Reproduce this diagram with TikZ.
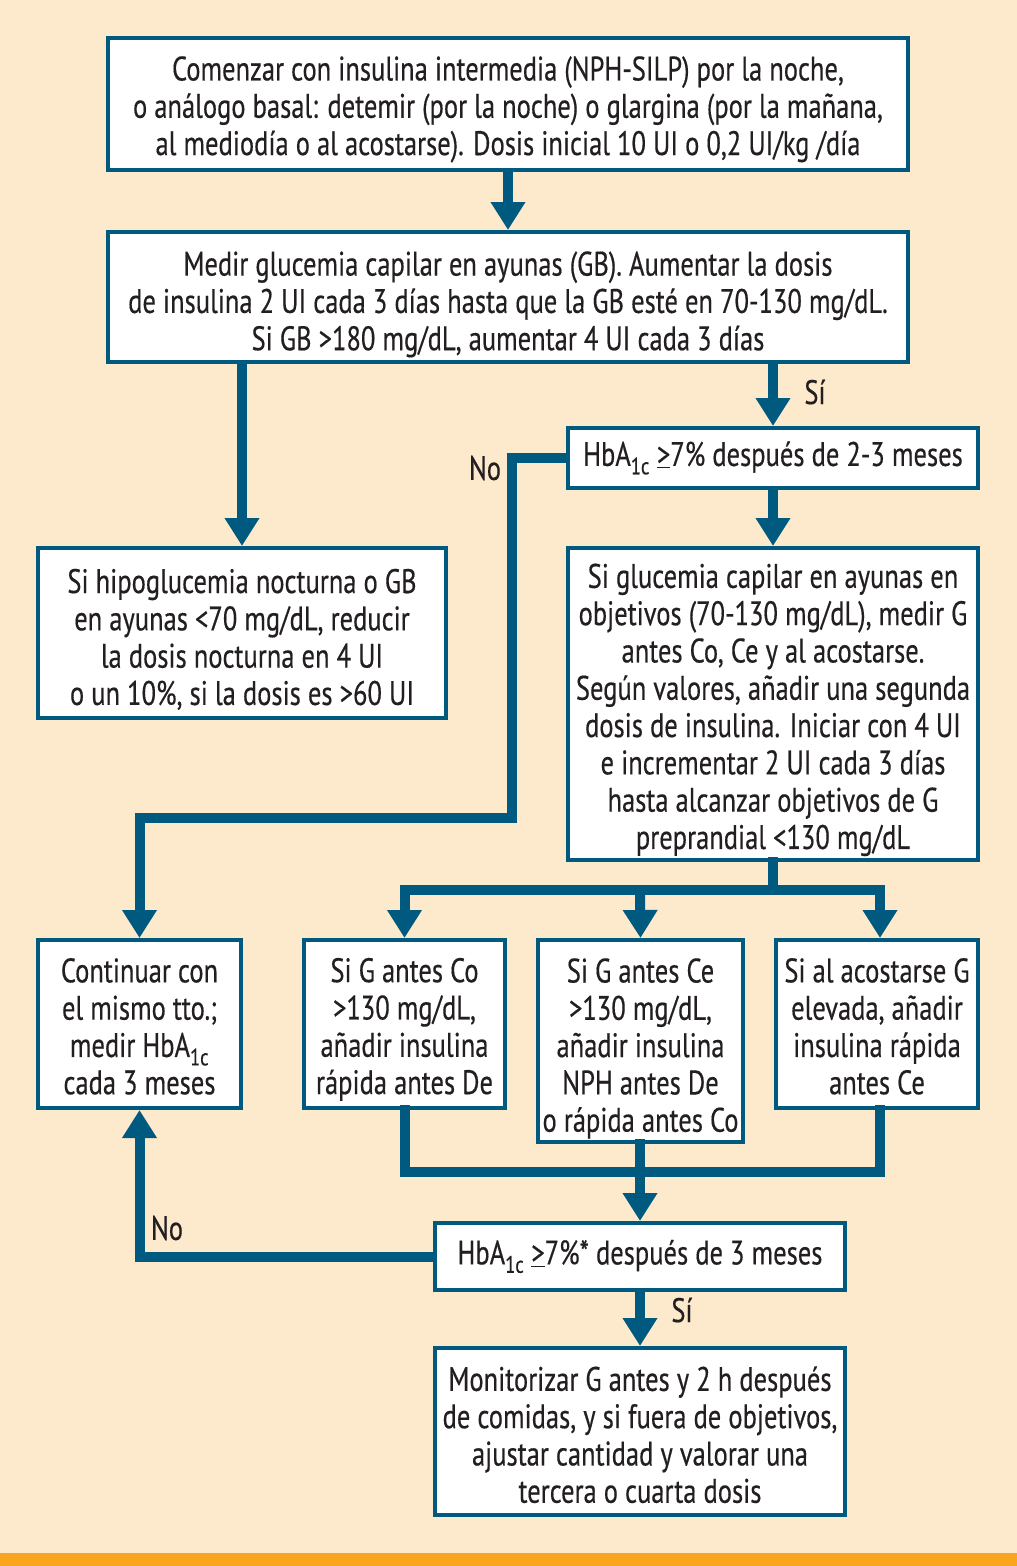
\documentclass[tikz,border=0pt]{standalone}
\usepackage{fontspec}
\setmainfont{PT Sans}[FakeStretch=0.78,FakeBold=0.4]
\usetikzlibrary{arrows.meta}
\definecolor{bgc}{RGB}{253,234,204}
\definecolor{flow}{RGB}{0,90,128}
\definecolor{barc}{RGB}{249,165,30}
\definecolor{txt}{RGB}{35,31,32}
\tikzset{
  box/.style={draw=flow, line width=4pt, fill=white, align=center, inner sep=0pt, text=txt,
    font=\fontsize{34}{37.3}\selectfont},
  arr/.style={draw=flow, line width=10pt, -{Triangle[width=33pt,length=28pt]}},
  ln/.style={draw=flow, line width=10pt, line cap=rect},
  lbl/.style={text=txt, font=\fontsize{34}{37.3}\selectfont, inner sep=0pt}
}
\newcommand{\hba}{HbA\textsubscript{1c}}
\newcommand{\myge}{\underline{>}}
\newcommand{\st}[1]{\rule{0pt}{#1pt}}
\begin{document}
\begin{tikzpicture}[x=1pt,y=-1pt]
\useasboundingbox (0,0) rectangle (1017,1566);
\fill[bgc] (0,0) rectangle (1017,1566);
\fill[barc] (0,1553) rectangle (1017,1566);

\node[box, minimum width=800pt, minimum height=132pt] (b1) at (508,104)
  {\st{35}Comenzar con insulina intermedia (NPH-SILP) por la noche,\\
   o análogo basal: detemir (por la noche) o glargina (por la mañana,\\
   al mediodía o al acostarse). Dosis inicial 10 UI o 0,2 UI/kg /día};
\node[box, minimum width=800pt, minimum height=130pt] (b2) at (508,297)
  {\st{39}Medir glucemia capilar en ayunas (GB). Aumentar la dosis\\
   de insulina 2 UI cada 3 días hasta que la GB esté en 70-130 mg/dL.\\
   Si GB >180 mg/dL, aumentar 4 UI cada 3 días};
\node[box, minimum width=408pt, minimum height=170pt] (b3) at (242,633)
  {\st{37}Si hipoglucemia nocturna o GB\\
   en ayunas <70 mg/dL, reducir\\
   la dosis nocturna en 4 UI\\
   o un 10\%, si la dosis es >60 UI};
\node[box, minimum width=410pt, minimum height=60pt] (b4) at (773,458)
  {\hba{} \myge7\% después de 2-3 meses};
\node[box, minimum width=410pt, minimum height=312pt] (b5) at (773,704)
  {\st{36}Si glucemia capilar en ayunas en\\
   objetivos (70-130 mg/dL), medir G\\
   antes Co, Ce y al acostarse.\\
   Según valores, añadir una segunda\\
   dosis de insulina. Iniciar con 4 UI\\
   e incrementar 2 UI cada 3 días\\
   hasta alcanzar objetivos de G\\
   preprandial <130 mg/dL};
\node[box, minimum width=203pt, minimum height=168pt] (b6) at (139.5,1024)
  {\st{29}Continuar con\\ el mismo tto.;\\ medir \hba\\ cada 3 meses};
\node[box, minimum width=201pt, minimum height=168pt] (b7) at (404.5,1024)
  {\st{35}Si G antes Co\\ >130 mg/dL,\\ añadir insulina\\ rápida antes De};
\node[box, minimum width=205pt, minimum height=202pt] (b8) at (640.5,1041)
  {\st{39}Si G antes Ce\\ >130 mg/dL,\\ añadir insulina\\ NPH antes De\\ o rápida antes Co};
\node[box, minimum width=202pt, minimum height=168pt] (b9) at (877,1024)
  {\st{29}Si al acostarse G\\ elevada, añadir\\ insulina rápida\\ antes Ce};
\node[box, minimum width=410pt, minimum height=67pt] (b10) at (640,1256.5)
  {\hba{} \myge7\%* después de 3 meses};
\node[box, minimum width=410pt, minimum height=167pt] (b11) at (640,1431.5)
  {\st{31}Monitorizar G antes y 2 h después\\
   de comidas, y si fuera de objetivos,\\
   ajustar cantidad y valorar una\\
   tercera o cuarta dosis};

% connectors
\draw[arr] (b1.south) -- (b2.north);
\draw[arr] (b2.south -| b3.north) -- (b3.north);
\draw[arr] (b2.south -| b4.north) -- (b4.north);
\node[lbl] (si1) at (815,392) {Sí};
\draw[arr] (b4.south) -- (b5.north);

\coordinate (n1) at (512,458);
\coordinate (n2) at (512,818);
\coordinate (n3) at (b6.north |- n2);
\draw[arr, line join=miter] (b4.west) -- (n1) -- (n2) -- (n3) -- (b6.north);
\node[lbl] (no1) at (485,468) {No};

\coordinate (t1) at (b5.south |- 0,890);
\coordinate (tl) at (b7.north |- t1);
\coordinate (tm) at (640,890);
\coordinate (tr) at (880,890);
\draw[ln] (b5.south) -- (t1);
\draw[ln] (tl) -- (tr);
\draw[arr] (tl) -- (b7.north);
\draw[arr] (tm) -- (b8.north |- b7.north);
\draw[arr] (tr) -- (tr |- b9.north);

\coordinate (ul) at (b7.south |- 0,1172);
\coordinate (ur) at (880,1172);
\coordinate (um) at (640,1172);
\draw[ln, line join=miter] (b7.south) -- (ul) -- (ur) -- (ur |- b9.south);
\draw[ln] (b8.south -| um) -- (um);
\draw[arr] (um) -- (b10.north);

\coordinate (m1) at (b6.south |- b10.west);
\draw[arr, line join=miter] (b10.west) -- (m1) -- (b6.south);
\node[lbl] (no2) at (167,1228) {No};

\draw[arr] (b10.south) -- (b11.north);
\node[lbl] (si2) at (682,1310) {Sí};
\end{tikzpicture}
\end{document}
